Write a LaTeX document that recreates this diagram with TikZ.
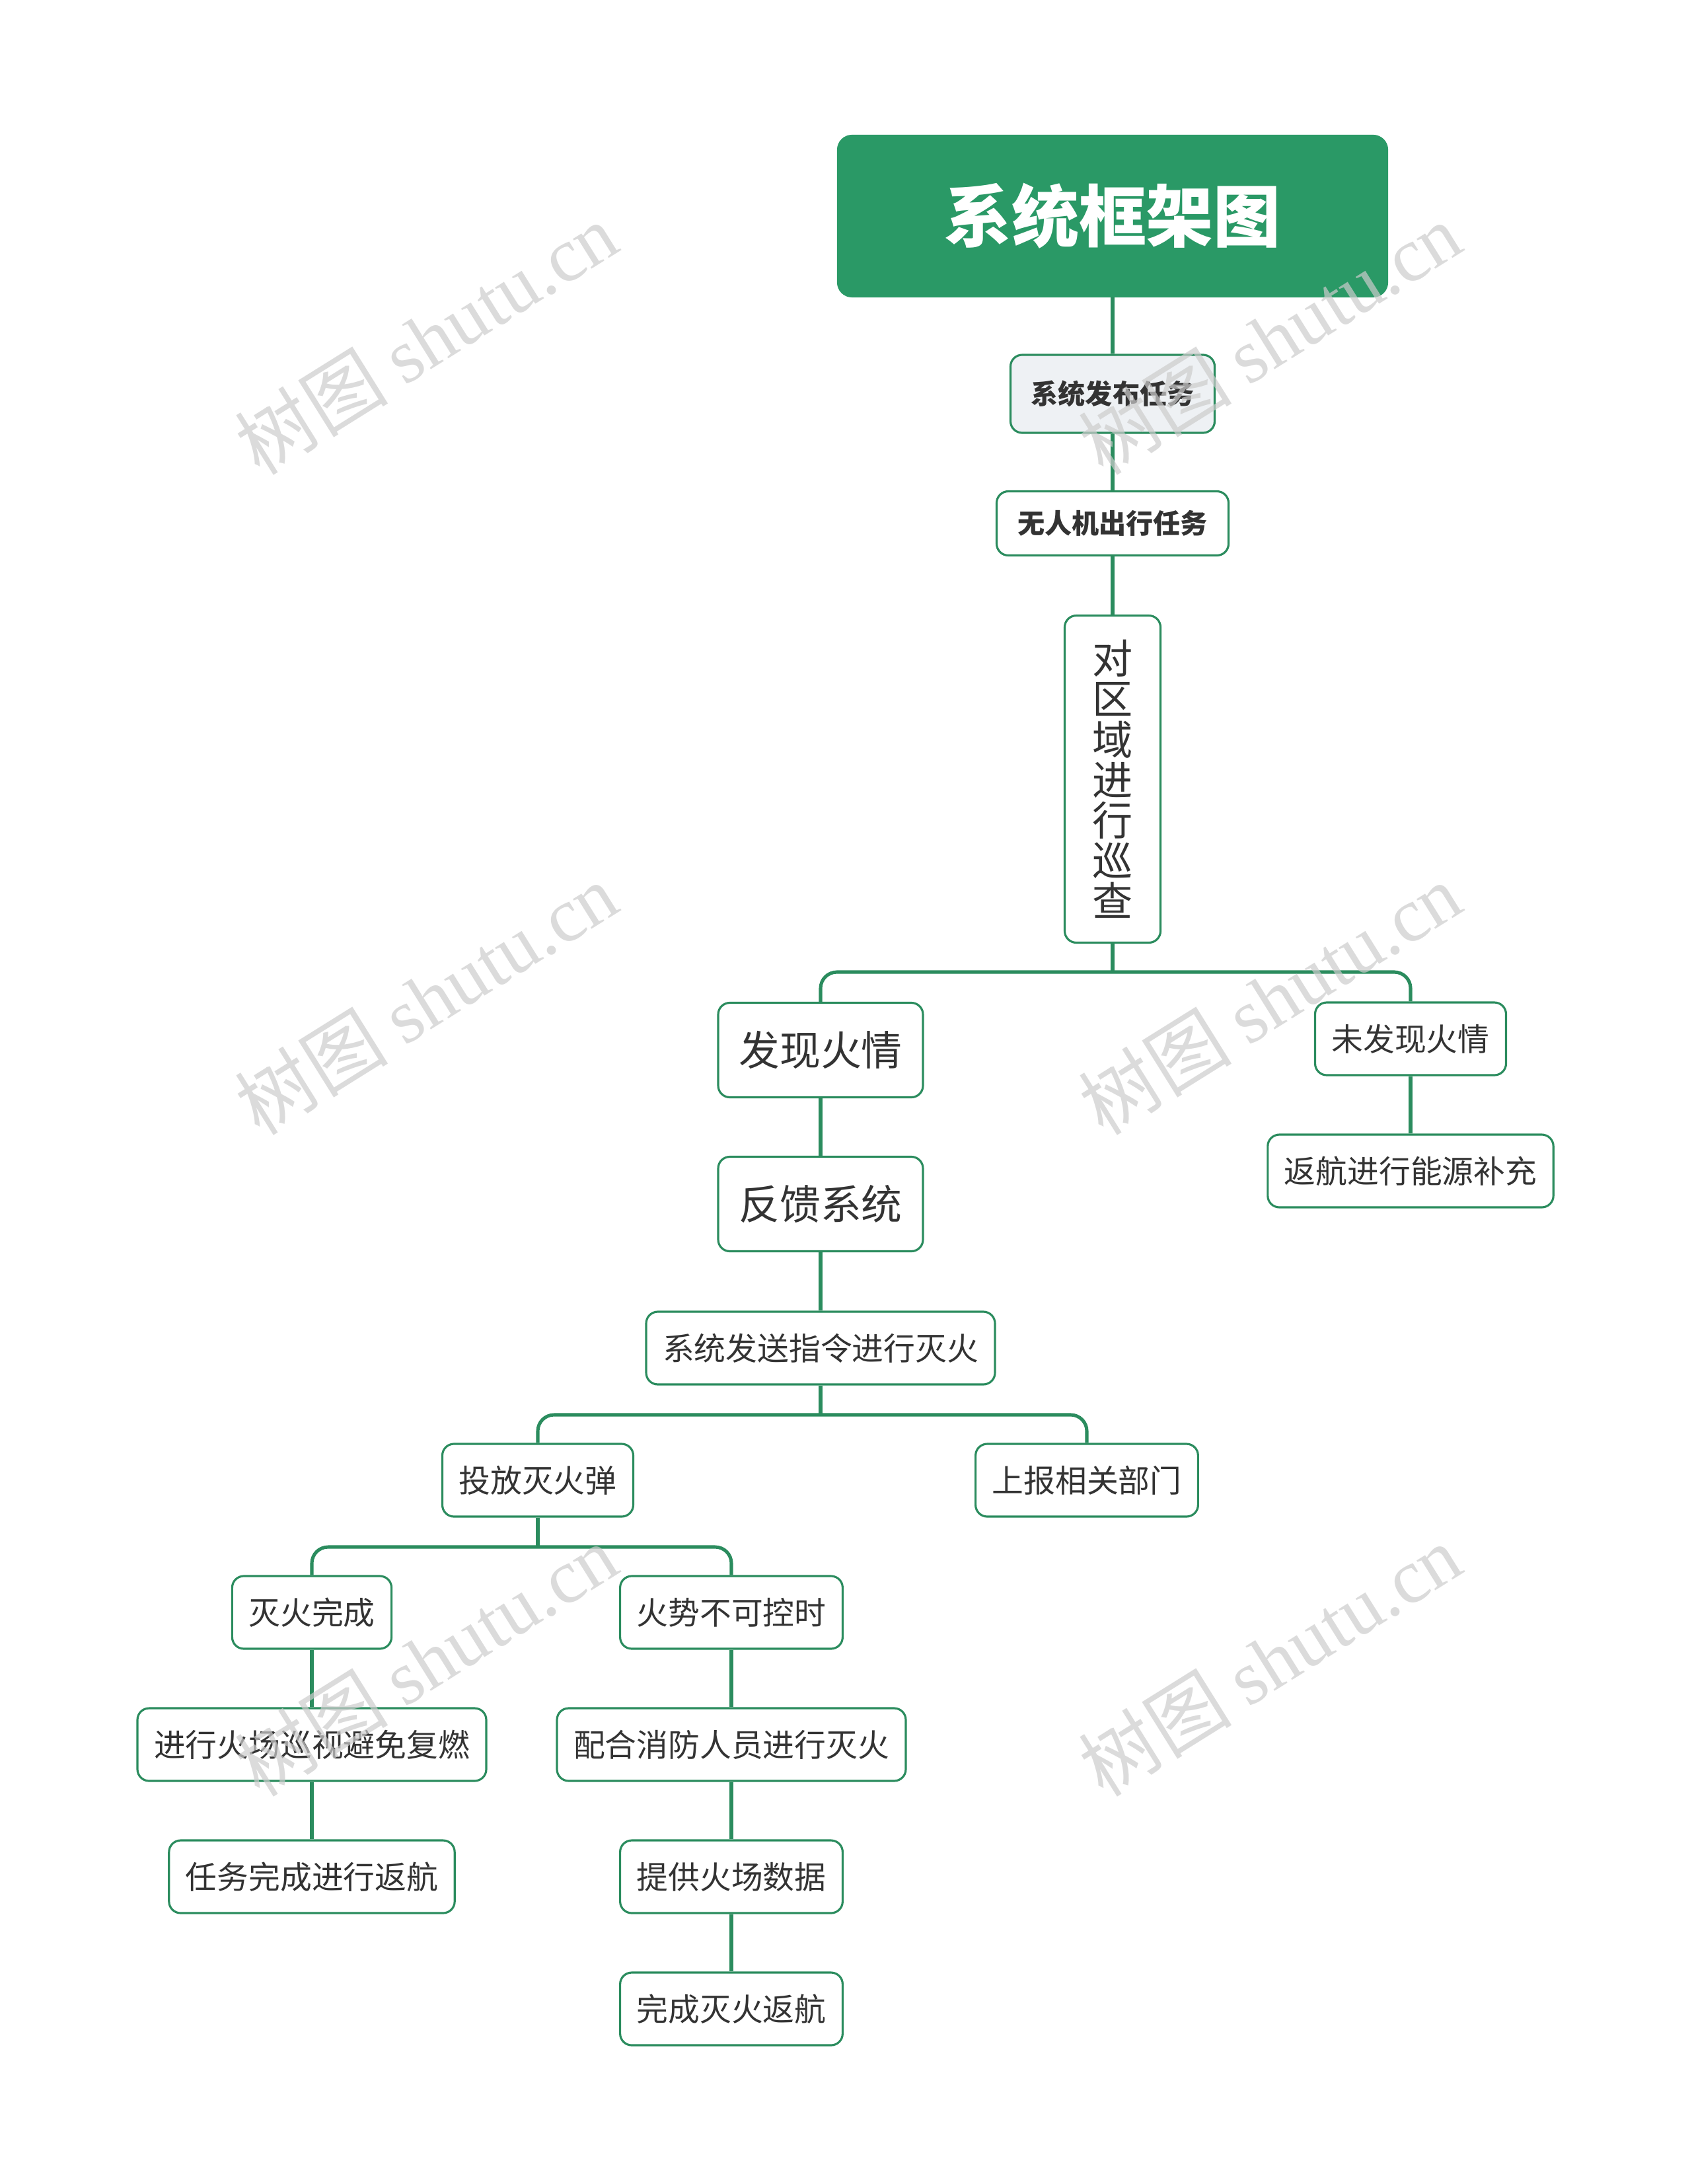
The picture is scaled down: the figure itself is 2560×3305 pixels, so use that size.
\documentclass[tikz,border=0pt]{standalone}
\usepackage{fontspec}
\setmainfont{Noto Sans CJK SC}
\newfontfamily\wmfont{Liberation Serif}
\usetikzlibrary{positioning, calc}
\definecolor{firegreen}{HTML}{2A9966}
\definecolor{fireline}{HTML}{2B8C5E}
\definecolor{firegray}{HTML}{EEF1F4}
\definecolor{firetext}{HTML}{333333}

\begin{document}
\begin{tikzpicture}[
      x=0.1mm, y=-0.1mm,
      every node/.style={text=firetext},
      box/.style={draw=fireline, line width=0.9pt, rounded corners=5pt,
                  fill=white, align=center, inner ysep=0pt},
      leaf/.style={box, font=\fontsize{13.6}{16}\selectfont,
                   inner xsep=0.25cm, minimum height=1.1cm},
      big/.style={box, font=\fontsize{17.6}{20}\selectfont,
                  minimum width=3.1cm, minimum height=1.43cm},
      task/.style={box, font=\fontsize{11.7}{14}\selectfont\bfseries},
      link/.style={draw=fireline, line width=1.45pt, rounded corners=7pt},
      wmark/.style={text=gray!40, opacity=0.7, rotate=32,
                    font=\fontsize{33}{38}\selectfont},
    ]
    \useasboundingbox (0,0) rectangle (2560,3305);

    \node[box, fill=firegreen, draw=firegreen, text=white, rounded corners=6pt,
          minimum width=8.31cm, minimum height=2.43cm,
          font=\fontsize{29}{34}\selectfont\bfseries] (title) at (1684,327) {系统框架图};
    \node[task, fill=firegray, minimum width=3.09cm, minimum height=1.18cm]
      (publish) at (1684,596) {系统发布任务};
    \node[task, minimum width=3.51cm, minimum height=0.97cm]
      (drone) at (1684,792) {无人机出行任务};
    \node[box, font=\fontsize{17.4}{17.4}\selectfont, minimum width=1.45cm,
          minimum height=4.95cm] (patrol) at (1684,1179)
      {对\\区\\域\\进\\行\\巡\\查};

    \node[big] (found) at (1242,1589) {发现火情};
    \node[leaf] (nofire) at (2135,1572) {未发现火情};
    \node[leaf] (recharge) at (2135,1772) {返航进行能源补充};
    \node[big] (feedback) at (1242,1822) {反馈系统};
    \node[leaf] (command) at (1242,2040) {系统发送指令进行灭火};

    \node[leaf] (bomb) at (814,2240) {投放灭火弹};
    \node[leaf] (report) at (1645,2240) {上报相关部门};

    \node[leaf] (done) at (472,2440) {灭火完成};
    \node[leaf] (revisit) at (472,2640) {进行火场巡视避免复燃};
    \node[leaf] (goback) at (472,2840) {任务完成进行返航};

    \node[leaf] (uncontrol) at (1107,2440) {火势不可控时};
    \node[leaf] (assist) at (1107,2640) {配合消防人员进行灭火};
    \node[leaf] (firedata) at (1107,2840) {提供火场数据};
    \node[leaf] (finish) at (1107,3040) {完成灭火返航};

    % branch points
    \coordinate (br1) at (1684,1471);
    \coordinate (br2) at (1242,2141);
    \coordinate (br3) at (814,2341);

    \draw[link] (title) -- (publish);
    \draw[link] (publish) -- (drone);
    \draw[link] (drone) -- (patrol);
    \draw[link] (patrol) -- (br1);
    \draw[link] (found.north) |- (br1) -| (nofire.north);
    \draw[link] (nofire) -- (recharge);
    \draw[link] (found) -- (feedback);
    \draw[link] (feedback) -- (command);
    \draw[link] (command) -- (br2);
    \draw[link] (bomb.north) |- (br2) -| (report.north);
    \draw[link] (bomb) -- (br3);
    \draw[link] (done.north) |- (br3) -| (uncontrol.north);
    \draw[link] (done) -- (revisit);
    \draw[link] (revisit) -- (goback);
    \draw[link] (uncontrol) -- (assist);
    \draw[link] (assist) -- (firedata);
    \draw[link] (firedata) -- (finish);

    % watermarks
    \foreach \wx/\wy [count=\i] in {645/512, 1922/512, 645/1511, 1922/1511, 645/2512, 1922/2512}
      \node[wmark] (wm\i) at (\wx,\wy) {树图 {\wmfont shutu.cn}};
  \end{tikzpicture}
\end{document}
